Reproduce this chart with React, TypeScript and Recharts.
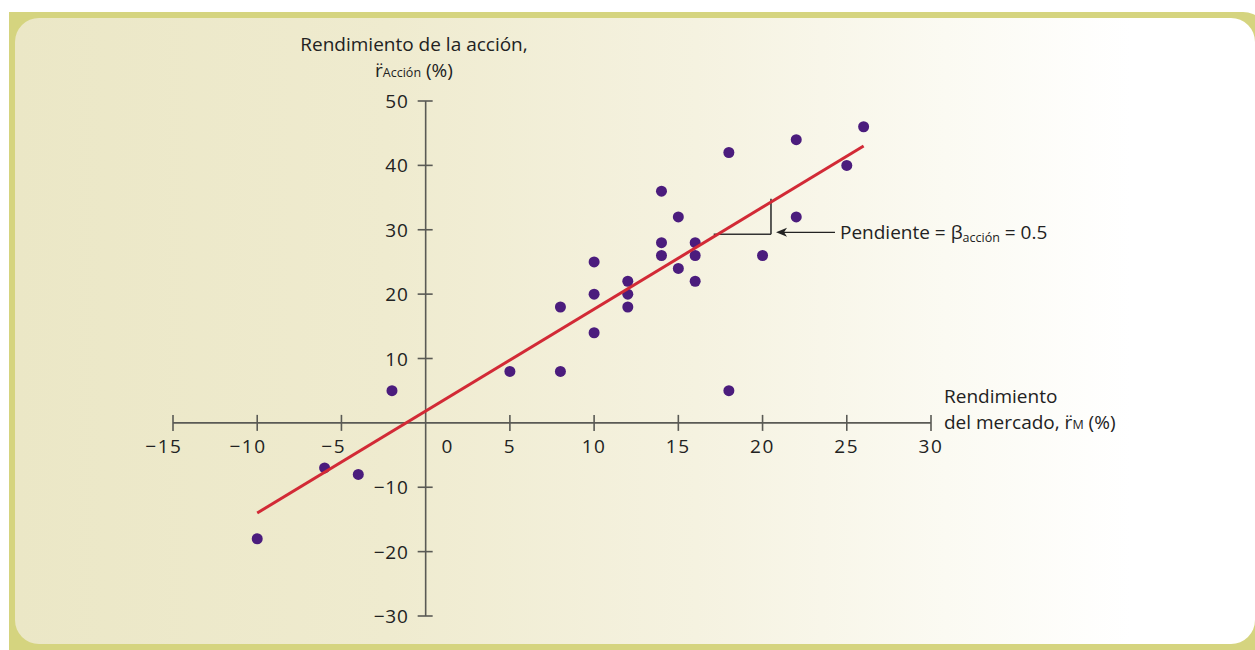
import React from "react";
import {
  ScatterChart,
  Scatter,
  XAxis,
  YAxis,
  ReferenceLine,
  ReferenceDot,
} from "recharts";

// market return (x) and stock return (y), one entry per observation
const marketReturn = [-10, -6, -4, -2, 5, 8, 8, 10, 10, 10, 12, 12, 12, 14, 14, 14, 15, 15, 16, 16, 16, 18, 18, 20, 22, 22, 25, 26];
const stockReturn = [-18, -7, -8, 5, 8, 18, 8, 25, 20, 14, 22, 20, 18, 36, 28, 26, 32, 24, 28, 26, 22, 42, 5, 26, 44, 32, 40, 46];

// fitted line end points
const fitX = [-10, 26];
const fitY = [-14, 43];

const xTicks = [-15, -10, -5, 0, 5, 10, 15, 20, 25, 30];
const yTicks = [50, 40, 30, 20, 10, -10, -20, -30];

// slope triangle and arrow annotation
const triX = [17.1, 20.5];
const triY = [29.3, 34.8];
const arrowX = [24.3, 20.8];
const arrowY = 29.6;

const points = marketReturn.map((x, i) => ({ x, y: stockReturn[i] }));
const fitLine = fitX.map((x, i) => ({ x, y: fitY[i] }));

const FONT = "'Open Sans', 'Noto Sans', sans-serif";
const TEXT = "#222222";
const AXIS = "#5a5a55";

const fmt = (v: number) => (v < 0 ? "\u2212" + Math.abs(v) : String(v));

const XTick = ({ cx, cy, value }: { cx?: number; cy?: number; value: number }) => {
  if (cx == null || cy == null) return <g />;
  const digits = String(Math.abs(value));
  const w = digits.length * 4.8;
  return (
    <g>
      {value !== 0 && (
        <line x1={cx} y1={cy - 8} x2={cx} y2={cy + 8} stroke={AXIS} strokeWidth={1.6} />
      )}
      <text
        x={value === 0 ? cx + 22 : value < 0 ? cx + w : cx}
        y={cy + 30}
        textAnchor={value === 0 ? "middle" : value < 0 ? "end" : "middle"}
        fontFamily={FONT}
        fontSize={19}
        letterSpacing={1.6}
        fill={TEXT}
      >
        {fmt(value)}
      </text>
    </g>
  );
};

const YTick = ({ cx, cy, value }: { cx?: number; cy?: number; value: number }) => {
  if (cx == null || cy == null) return <g />;
  return (
    <g>
      <line x1={cx - 8} y1={cy} x2={cx + 7} y2={cy} stroke={AXIS} strokeWidth={1.6} />
      <text
        x={cx - 17}
        y={cy + 7}
        textAnchor="end"
        fontFamily={FONT}
        fontSize={19}
        letterSpacing={0.8}
        fill={TEXT}
      >
        {fmt(value)}
      </text>
    </g>
  );
};

const ArrowHead = ({ cx, cy }: { cx?: number; cy?: number }) => {
  if (cx == null || cy == null) return <g />;
  return (
    <path
      d={`M${cx},${cy} L${cx + 11},${cy - 4.5} L${cx + 8},${cy} L${cx + 11},${cy + 4.5} Z`}
      fill="#222"
    />
  );
};

const SlopeLabel = ({ cx, cy }: { cx?: number; cy?: number }) => {
  if (cx == null || cy == null) return <g />;
  return (
    <text x={cx + 5} y={cy + 7} fontFamily={FONT} fontSize={19} fill={TEXT}>
      Pendiente = β
      <tspan fontSize={12.5} dy={3}>acción</tspan>
      <tspan dy={-3}> = 0.5</tspan>
    </text>
  );
};

const Dot = (p: { cx?: number; cy?: number }) => (
  <circle cx={p.cx} cy={p.cy} r={5.5} fill="#4b1c7d" />
);

export default function App() {
  return (
    <div
      style={{
        position: "absolute",
        left: 0,
        top: 0,
        width: 1255,
        height: 650,
        background: "#ffffff",
        overflow: "hidden",
        fontFamily: FONT,
        color: TEXT,
      }}
    >
      <div
        style={{
          position: "absolute",
          left: 9,
          top: 12,
          width: 1260,
          height: 650,
          background: "#d5d47f",
          borderTopRightRadius: 26,
        }}
      />
      <div
        style={{
          position: "absolute",
          left: 15,
          top: 18,
          width: 1240,
          height: 626,
          borderRadius: 24,
          background:
            "linear-gradient(90deg, #ebe7c6 0%, #efebcf 30%, #f5f2e0 55%, #fbfaf2 75%, #ffffff 90%)",
        }}
      />

      <div
        style={{
          position: "absolute",
          left: 239,
          top: 31,
          width: 350,
          textAlign: "center",
          fontSize: 19,
          lineHeight: "26px",
        }}
      >
        <div>Rendimiento de la acción,</div>
        <div>
          r̈<span style={{ fontSize: 12.5 }}>Acción</span> (%)
        </div>
      </div>

      <div
        style={{
          position: "absolute",
          left: 944,
          top: 383,
          fontSize: 19,
          lineHeight: "26px",
          whiteSpace: "nowrap",
        }}
      >
        <div>Rendimiento</div>
        <div>
          del mercado, r̈<span style={{ fontSize: 12.5 }}>M</span> (%)
        </div>
      </div>

      <div style={{ position: "absolute", left: 0, top: 0 }}>
        <ScatterChart
          width={1255}
          height={650}
          margin={{ top: 101, right: 324, bottom: 34, left: 173 }}
        >
          <XAxis type="number" dataKey="x" domain={[-15, 30]} hide />
          <YAxis type="number" dataKey="y" domain={[-30, 50]} hide />

          <ReferenceLine y={0} stroke={AXIS} strokeWidth={1.6} />
          <ReferenceLine x={0} stroke={AXIS} strokeWidth={1.6} />

          {xTicks.map((v) => (
            <ReferenceDot
              key={"x" + v}
              x={v}
              y={0}
              r={0}
              shape={(p: any) => <XTick cx={p.cx} cy={p.cy} value={v} />}
            />
          ))}
          {yTicks.map((v) => (
            <ReferenceDot
              key={"y" + v}
              x={0}
              y={v}
              r={0}
              shape={(p: any) => <YTick cx={p.cx} cy={p.cy} value={v} />}
            />
          ))}

          <Scatter data={points} isAnimationActive={false} shape={Dot} />
          <Scatter
            data={fitLine}
            isAnimationActive={false}
            line={{ stroke: "#d22a36", strokeWidth: 3 }}
            shape={() => <g />}
          />

          <ReferenceLine
            segment={[
              { x: triX[0], y: triY[0] },
              { x: triX[1], y: triY[0] },
            ]}
            stroke="#333"
            strokeWidth={1.6}
          />
          <ReferenceLine
            segment={[
              { x: triX[1], y: triY[0] },
              { x: triX[1], y: triY[1] },
            ]}
            stroke="#333"
            strokeWidth={1.6}
          />
          <ReferenceLine
            segment={[
              { x: arrowX[0], y: arrowY },
              { x: arrowX[1] + 0.4, y: arrowY },
            ]}
            stroke="#222"
            strokeWidth={1.4}
          />
          <ReferenceDot
            x={arrowX[1]}
            y={arrowY}
            r={0}
            shape={(p: any) => <ArrowHead cx={p.cx} cy={p.cy} />}
          />
          <ReferenceDot
            x={arrowX[0]}
            y={arrowY}
            r={0}
            shape={(p: any) => <SlopeLabel cx={p.cx} cy={p.cy} />}
          />
        </ScatterChart>
      </div>
    </div>
  );
}
